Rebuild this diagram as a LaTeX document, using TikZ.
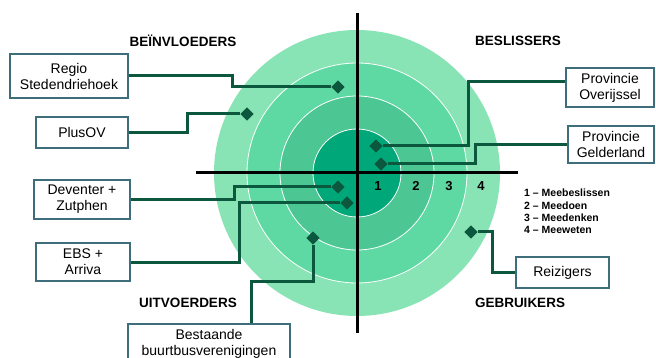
\documentclass[tikz,border=0pt]{standalone}
\usepackage{fontspec}
\setmainfont{Liberation Sans}
\usetikzlibrary{shapes.geometric}
\definecolor{ringfour}{RGB}{136,227,181}
\definecolor{ringthree}{RGB}{95,217,163}
\definecolor{ringtwo}{RGB}{76,198,147}
\definecolor{ringone}{RGB}{0,167,121}
\definecolor{linkgreen}{RGB}{12,88,62}
\definecolor{boxblue}{RGB}{62,110,124}

\begin{document}
\begin{tikzpicture}[x=1pt,y=-1pt,
  link/.style={draw=linkgreen,line width=3pt},
  axis/.style={draw=black,line width=3pt},
  party/.style={draw=boxblue,line width=1.2pt,fill=white,align=center,inner sep=0pt,
    font=\fontsize{14}{16}\selectfont},
  marker/.style={diamond,fill=linkgreen,inner sep=0pt,minimum size=13.5pt},
  quadrant/.style={font=\fontsize{13.5}{16}\selectfont\bfseries},
  level/.style={font=\fontsize{13}{15}\selectfont\bfseries}]

  \useasboundingbox (0,0) rectangle (656,358);

  \fill[ringfour] (357,173) circle (143pt);
  \filldraw[ringthree,draw=white,line width=0.8pt] (357,173) circle (110pt);
  \filldraw[ringtwo,draw=white,line width=0.8pt] (357,173) circle (77pt);
  \filldraw[ringone,draw=white,line width=0.8pt] (357,173) circle (44pt);

  \draw[axis] (357,13) -- (357,333);
  \draw[axis] (196,173) -- (518,173);

  \node[level] (n1) at (378,186) {1};
  \node[level] (n2) at (416,186) {2};
  \node[level] (n3) at (449,186) {3};
  \node[level] (n4) at (481,186) {4};

  \node[quadrant] (beinvloeders) at (183,41) {BEÏNVLOEDERS};
  \node[quadrant] (beslissers) at (518,41) {BESLISSERS};
  \node[quadrant] (uitvoerders) at (188,303) {UITVOERDERS};
  \node[quadrant] (gebruikers) at (520,303) {GEBRUIKERS};

  \node[anchor=west,align=left,inner sep=0pt,font=\fontsize{10.5}{12.3}\selectfont\bfseries]
    (legend) at (524,211.5) {1 – Meebeslissen\\2 – Meedoen\\3 – Meedenken\\4 – Meeweten};

  \node[party,minimum width=118pt,minimum height=44pt] (regio) at (69,76) {Regio\\Stedendriehoek};
  \node[party,minimum width=92pt,minimum height=31pt] (plusov) at (82,132.5) {PlusOV};
  \node[party,minimum width=88pt,minimum height=39pt] (overijssel) at (610,87.5) {Provincie\\Overijssel};
  \node[party,minimum width=86pt,minimum height=37pt] (gelderland) at (611,144.5) {Provincie\\Gelderland};
  \node[party,minimum width=96pt,minimum height=39pt] (deventer) at (82,199.5) {Deventer +\\Zutphen};
  \node[party,minimum width=94pt,minimum height=38pt] (ebs) at (83,262) {EBS +\\Arriva};
  \node[party,minimum width=162pt,minimum height=40pt,font=\fontsize{14}{15.5}\selectfont]
    (buurtbus) at (209,344) {Bestaande\\buurtbusverenigingen};
  \node[party,minimum width=93pt,minimum height=31pt] (reizigers) at (562.5,272.5) {Reizigers};

  \node[marker] (d-regio) at (338,87) {};
  \node[marker] (d-plusov) at (247,114) {};
  \node[marker] (d-overijssel) at (376,146) {};
  \node[marker] (d-gelderland) at (381,164) {};
  \node[marker] (d-deventer) at (338,187) {};
  \node[marker] (d-ebs) at (347,203) {};
  \node[marker] (d-buurtbus) at (313,238) {};
  \node[marker] (d-reizigers) at (471,232) {};

  \draw[link] (regio.east) -- ++(104,0) |- (d-regio);
  \draw[link] (plusov.east) -- ++(59,0) |- (d-plusov);
  \draw[link] ([yshift=6pt]overijssel.west) -- ++(-97,0) |- (d-overijssel);
  \draw[link] (gelderland.west) -- ++(-92,0) |- (d-gelderland);
  \draw[link] (deventer.east) -- ++(104,0) |- (d-deventer);
  \draw[link] (ebs.east) -- ++(109,0) |- (d-ebs);
  \draw[link] ([xshift=42pt]buurtbus.north) -- ++(0,-42) -| (d-buurtbus);
  \draw[link] (reizigers.west) -- ++(-23,0) |- (d-reizigers);
\end{tikzpicture}
\end{document}
